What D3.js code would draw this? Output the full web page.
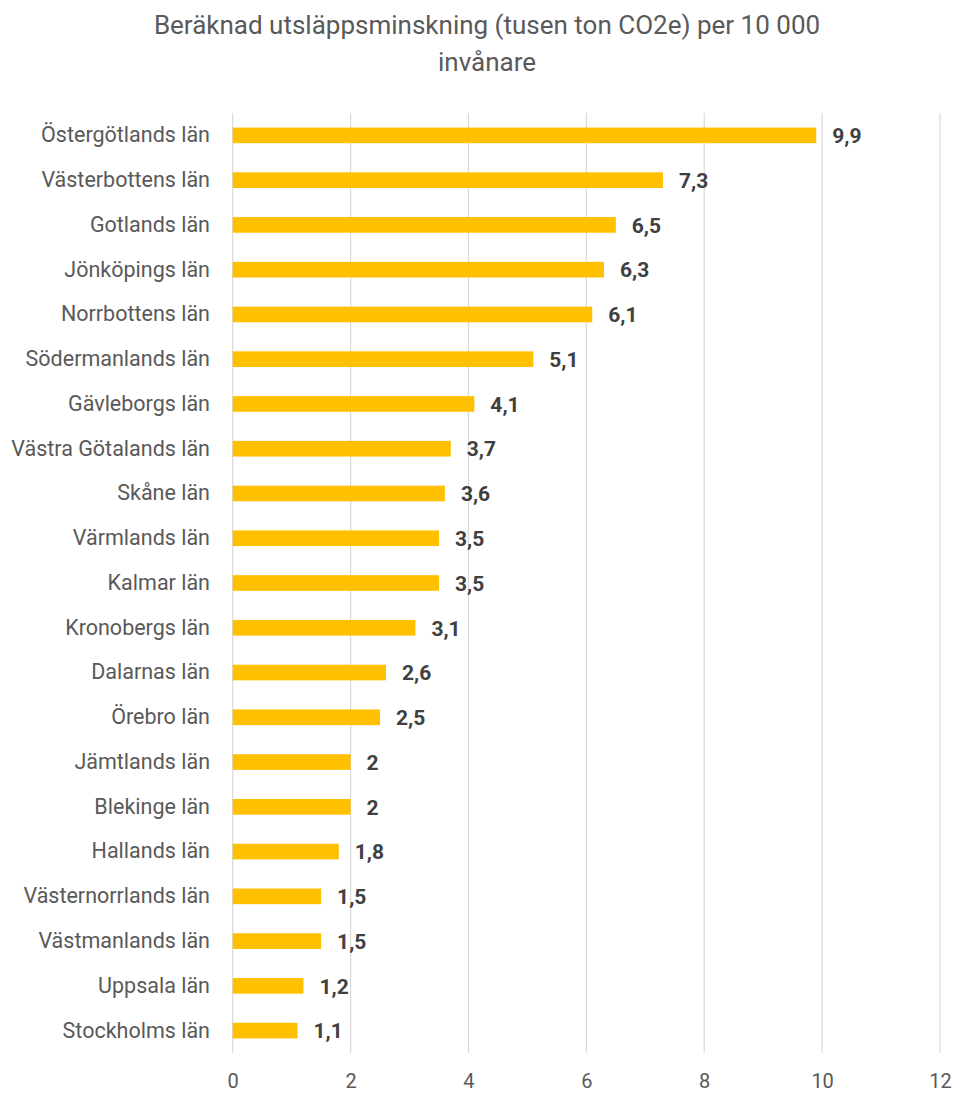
<!DOCTYPE html>
<html>
<head>
<meta charset="utf-8">
<script src="https://cdn.jsdelivr.net/npm/d3@7"></script>
<style>
  html, body { margin: 0; padding: 0; background: #fff; }
  svg { display: block; }
</style>
</head>
<body>
<svg id="chart" width="953" height="1093"></svg>
<script>
const titleLines = ["Beräknad utsläppsminskning (tusen ton CO2e) per 10 000", "invånare"];
const categories = [
  "Östergötlands län", "Västerbottens län", "Gotlands län", "Jönköpings län",
  "Norrbottens län", "Södermanlands län", "Gävleborgs län", "Västra Götalands län",
  "Skåne län", "Värmlands län", "Kalmar län", "Kronobergs län", "Dalarnas län",
  "Örebro län", "Jämtlands län", "Blekinge län", "Hallands län",
  "Västernorrlands län", "Västmanlands län", "Uppsala län", "Stockholms län"
];
const values = [9.9, 7.3, 6.5, 6.3, 6.1, 5.1, 4.1, 3.7, 3.6, 3.5, 3.5, 3.1, 2.6, 2.5, 2, 2, 1.8, 1.5, 1.5, 1.2, 1.1];
const tickValues = [0, 2, 4, 6, 8, 10, 12];

const FONT = "Roboto, 'Noto Sans', sans-serif";
const svg = d3.select("#chart");

const x = d3.scaleLinear().domain([0, 12]).range([232.7, 940]);
const y = d3.scaleBand().domain(categories).range([113, 1053]).paddingInner(0.65).paddingOuter(0.325);

// title
svg.append("text")
  .attr("x", 487).attr("y", 34)
  .attr("text-anchor", "middle")
  .attr("font-family", FONT).attr("font-size", 26).attr("fill", "#595959")
  .selectAll("tspan").data(titleLines).join("tspan")
  .attr("x", 487).attr("dy", (d, i) => i === 0 ? 0 : 37)
  .text(d => d);

// gridlines
svg.append("g").selectAll("line").data(tickValues).join("line")
  .attr("x1", d => x(d)).attr("x2", d => x(d))
  .attr("y1", 113).attr("y2", 1053)
  .attr("stroke", "#d9d9d9").attr("stroke-width", 1.2);

// x axis tick labels
const xAxis = d3.axisBottom(x).tickValues(tickValues).tickSize(0).tickPadding(0).tickFormat(d3.format("d"));
const gx = svg.append("g").attr("transform", "translate(0,1081)").call(xAxis);
gx.select(".domain").remove();
gx.selectAll("text")
  .attr("dy", "0.35em").attr("y", 0)
  .attr("font-family", FONT).attr("font-size", 20).attr("fill", "#595959");

// y axis labels
const yAxis = d3.axisLeft(y).tickSize(0).tickPadding(0);
const gy = svg.append("g").attr("transform", "translate(210,0)").call(yAxis);
gy.select(".domain").remove();
gy.selectAll("text")
  .attr("font-family", FONT).attr("font-size", 21.5).attr("fill", "#595959");

// bars
svg.append("g").selectAll("rect").data(categories).join("rect")
  .attr("x", x(0))
  .attr("y", d => y(d))
  .attr("width", (d, i) => x(values[i]) - x(0))
  .attr("height", y.bandwidth())
  .attr("fill", "#FFC000");

// data labels
const fmt = v => String(v).replace(".", ",");
svg.append("g").selectAll("text").data(categories).join("text")
  .attr("x", (d, i) => x(values[i]) + 16)
  .attr("y", d => y(d) + y.bandwidth() / 2)
  .attr("dy", "0.37em")
  .attr("font-family", FONT).attr("font-size", 21).attr("font-weight", "bold").attr("fill", "#404040")
  .text((d, i) => fmt(values[i]));
</script>
</body>
</html>
